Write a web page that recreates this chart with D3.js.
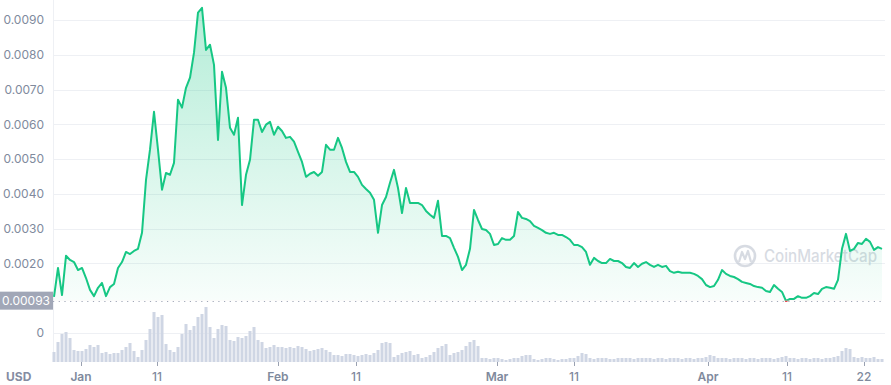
<!DOCTYPE html>
<html>
<head>
<meta charset="utf-8">
<script src="https://cdn.jsdelivr.net/npm/d3@7"></script>
<style>
  body { margin: 0; background: #fff; }
  svg { display: block; font-family: Inter, "Noto Sans", sans-serif; }
</style>
</head>
<body>
<script>
// price in USD, sampled evenly across the range
var prices = [
  0.00104, 0.00187, 0.00109, 0.00222, 0.00210, 0.00204, 0.00181, 0.00187, 0.00158, 0.00124,
  0.00106, 0.00130, 0.00144, 0.00106, 0.00132, 0.00141, 0.00187, 0.00204, 0.00233, 0.00227,
  0.00236, 0.00242, 0.00288, 0.00440, 0.00527, 0.00636, 0.00527, 0.00412, 0.00460, 0.00455,
  0.00489, 0.00671, 0.00648, 0.00705, 0.00734, 0.00806, 0.00921, 0.00935, 0.00814, 0.00829,
  0.00771, 0.00555, 0.00751, 0.00705, 0.00590, 0.00570, 0.00619, 0.00368, 0.00455, 0.00498,
  0.00613, 0.00613, 0.00578, 0.00599, 0.00607, 0.00570, 0.00593, 0.00581, 0.00561, 0.00564,
  0.00550, 0.00521, 0.00492, 0.00449, 0.00458, 0.00463, 0.00452, 0.00463, 0.00541, 0.00527,
  0.00527, 0.00561, 0.00532, 0.00492, 0.00463, 0.00463, 0.00449, 0.00426, 0.00414, 0.00403,
  0.00383, 0.00288, 0.00368, 0.00391, 0.00432, 0.00469, 0.00417, 0.00345, 0.00417, 0.00374,
  0.00374, 0.00374, 0.00368, 0.00351, 0.00340, 0.00331, 0.00380, 0.00279, 0.00279, 0.00273,
  0.00245, 0.00219, 0.00181, 0.00196, 0.00242, 0.00354, 0.00325, 0.00299, 0.00296, 0.00285,
  0.00253, 0.00256, 0.00273, 0.00268, 0.00268, 0.00279, 0.00348, 0.00331, 0.00328, 0.00322,
  0.00308, 0.00302, 0.00296, 0.00288, 0.00285, 0.00288, 0.00282, 0.00282, 0.00276, 0.00268,
  0.00253, 0.00253, 0.00247, 0.00233, 0.00196, 0.00216, 0.00207, 0.00201, 0.00201, 0.00213,
  0.00207, 0.00207, 0.00201, 0.00190, 0.00187, 0.00201, 0.00190, 0.00199, 0.00204, 0.00196,
  0.00190, 0.00196, 0.00190, 0.00193, 0.00178, 0.00173, 0.00176, 0.00173, 0.00173, 0.00173,
  0.00170, 0.00164, 0.00155, 0.00138, 0.00132, 0.00135, 0.00153, 0.00181, 0.00170, 0.00164,
  0.00161, 0.00155, 0.00147, 0.00144, 0.00141, 0.00135, 0.00132, 0.00130, 0.00121, 0.00118,
  0.00138, 0.00127, 0.00118, 0.00092, 0.00098, 0.00098, 0.00106, 0.00101, 0.00101, 0.00106,
  0.00115, 0.00112, 0.00127, 0.00132, 0.00130, 0.00127, 0.00153, 0.00242, 0.00285, 0.00236,
  0.00242, 0.00259, 0.00256, 0.00271, 0.00262, 0.00239, 0.00247, 0.00242
];

// 24h volume (relative units), same sampling
var volumes = [
  10, 20, 28, 30, 24, 12, 11, 11, 13, 17,
  15, 17, 9, 10, 8, 9, 9, 12, 15, 19,
  11, 5, 12, 22, 33, 50, 45, 47, 18, 12,
  10, 15, 28, 38, 32, 36, 45, 48, 55, 35,
  24, 33, 37, 36, 22, 21, 25, 24, 26, 31,
  35, 22, 20, 14, 15, 17, 15, 15, 14, 15,
  14, 16, 15, 13, 11, 12, 13, 14, 12, 10,
  7, 7, 6, 8, 8, 7, 6, 7, 8, 7,
  9, 12, 19, 20, 19, 5, 7, 9, 10, 11,
  7, 8, 4, 5, 7, 10, 14, 16, 18, 7,
  9, 10, 12, 16, 20, 22, 16, 4, 4, 3,
  4, 4, 3, 2, 3, 4, 4, 6, 7, 7,
  3, 2, 3, 4, 4, 3, 2, 3, 3, 4,
  4, 6, 9, 8, 4, 3, 4, 4, 4, 3,
  3, 4, 4, 4, 4, 3, 4, 4, 4, 4,
  3, 4, 4, 3, 4, 4, 4, 3, 4, 4,
  3, 4, 4, 5, 7, 6, 4, 4, 4, 3,
  4, 4, 4, 3, 4, 4, 3, 4, 4, 4,
  3, 4, 5, 6, 4, 4, 3, 4, 4, 3,
  4, 4, 3, 4, 4, 5, 6, 11, 14, 13,
  5, 4, 5, 4, 4, 5, 3, 3
];

var basePrice = 0.00093;
var baseLabel = "0.00093";

var yTicks = [0, 0.002, 0.003, 0.004, 0.005, 0.006, 0.007, 0.008, 0.009];
var yTickLabels = ["0", "0.0020", "0.0030", "0.0040", "0.0050", "0.0060", "0.0070", "0.0080", "0.0090"];

// tick positions in sample index units
var xTickPos = [6.75, 25.75, 56, 75.5, 110.75, 130, 163.5, 183.25, 202.5];
var xTickLabels = ["Jan", "11", "Feb", "11", "Mar", "11", "Apr", "11", "22"];

var width = 891, height = 385;
var left = 53, right = 885;

var svg = d3.select("body")
  .append("svg")
  .attr("width", width)
  .attr("height", height);

var x = d3.scaleLinear()
  .domain([0, prices.length - 1])
  .range([54, 882]);

var y = d3.scaleLinear()
  .domain([0, 0.009])
  .range([333, 20]);

var yVol = d3.scaleLinear()
  .domain([0, 56])
  .range([362, 306]);

var defs = svg.append("defs");

var grad = defs.append("linearGradient")
  .attr("id", "upFill")
  .attr("gradientUnits", "userSpaceOnUse")
  .attr("x1", 0).attr("x2", 0)
  .attr("y1", y(d3.max(prices))).attr("y2", y(basePrice));
grad.append("stop").attr("offset", "0%").attr("stop-color", "#16c784").attr("stop-opacity", 0.32);
grad.append("stop").attr("offset", "100%").attr("stop-color", "#16c784").attr("stop-opacity", 0.03);

defs.append("clipPath").attr("id", "clipUp")
  .append("rect")
  .attr("x", 0).attr("y", 0)
  .attr("width", width).attr("height", y(basePrice));

defs.append("clipPath").attr("id", "clipDown")
  .append("rect")
  .attr("x", 0).attr("y", y(basePrice))
  .attr("width", width).attr("height", height - y(basePrice));

// grid lines
svg.append("g")
  .selectAll("line")
  .data(yTicks)
  .enter()
  .append("line")
  .attr("x1", left)
  .attr("x2", right)
  .attr("y1", function(d) { return Math.round(y(d)) + 0.5; })
  .attr("y2", function(d) { return Math.round(y(d)) + 0.5; })
  .attr("stroke", "#eef0f4")
  .attr("stroke-width", 1);

svg.append("line")
  .attr("x1", left + 0.5).attr("x2", left + 0.5)
  .attr("y1", 0).attr("y2", 362)
  .attr("stroke", "#eef0f4");

// y labels
svg.append("g")
  .selectAll("text")
  .data(yTicks)
  .enter()
  .append("text")
  .attr("x", 44)
  .attr("y", function(d) { return y(d); })
  .attr("dy", "0.35em")
  .attr("text-anchor", "end")
  .attr("font-size", "12px")
  .attr("fill", "#808a9d")
  .text(function(d, i) { return yTickLabels[i]; });

// volume bars
svg.append("g")
  .selectAll("rect")
  .data(volumes)
  .enter()
  .append("rect")
  .attr("x", function(d, i) { return x(i) - 1.5; })
  .attr("y", function(d) { return yVol(d); })
  .attr("width", 3)
  .attr("height", function(d) { return yVol(0) - yVol(d); })
  .attr("fill", "#cfd6e4");

// watermark (behind the line)
var wm = svg.append("g").attr("opacity", 0.55);
wm.append("circle")
  .attr("cx", 745).attr("cy", 256).attr("r", 10)
  .attr("fill", "none")
  .attr("stroke", "#b8bfcc")
  .attr("stroke-width", 2.6);
wm.append("path")
  .attr("d", "M739,262 L742,252 L745,259 L748,251 L751,262")
  .attr("fill", "none")
  .attr("stroke", "#b8bfcc")
  .attr("stroke-width", 2.2)
  .attr("stroke-linejoin", "round");
wm.append("text")
  .attr("x", 764)
  .attr("y", 262)
  .attr("font-size", "17px")
  .attr("font-weight", 500)
  .attr("textLength", 113)
  .attr("lengthAdjust", "spacingAndGlyphs")
  .attr("fill", "#b8bfcc")
  .text("CoinMarketCap");

// area + line
var area = d3.area()
  .x(function(d, i) { return x(i); })
  .y0(y(basePrice))
  .y1(function(d) { return y(d); });

var line = d3.line()
  .x(function(d, i) { return x(i); })
  .y(function(d) { return y(d); });

svg.append("path")
  .datum(prices)
  .attr("clip-path", "url(#clipUp)")
  .attr("d", area)
  .attr("fill", "url(#upFill)");

svg.append("path")
  .datum(prices)
  .attr("clip-path", "url(#clipDown)")
  .attr("d", area)
  .attr("fill", "#ea3943")
  .attr("fill-opacity", 0.08);

// baseline (opening price)
svg.append("line")
  .attr("x1", left)
  .attr("x2", right)
  .attr("y1", Math.round(y(basePrice)) + 0.5)
  .attr("y2", Math.round(y(basePrice)) + 0.5)
  .attr("stroke", "#a1a7b7")
  .attr("stroke-width", 1.2)
  .attr("stroke-dasharray", "1.2,4.5");

svg.append("path")
  .datum(prices)
  .attr("clip-path", "url(#clipUp)")
  .attr("d", line)
  .attr("fill", "none")
  .attr("stroke", "#16c784")
  .attr("stroke-width", 2)
  .attr("stroke-linejoin", "round");

svg.append("path")
  .datum(prices)
  .attr("clip-path", "url(#clipDown)")
  .attr("d", line)
  .attr("fill", "none")
  .attr("stroke", "#ea3943")
  .attr("stroke-width", 2)
  .attr("stroke-linejoin", "round");

// base price tag
svg.append("rect")
  .attr("x", 0)
  .attr("y", y(basePrice) - 9)
  .attr("width", left)
  .attr("height", 18)
  .attr("fill", "#a1a7b7");

svg.append("text")
  .attr("x", 26)
  .attr("y", y(basePrice))
  .attr("dy", "0.35em")
  .attr("text-anchor", "middle")
  .attr("font-size", "12px")
  .attr("fill", "#fff")
  .text(baseLabel);

// x axis
var xAxis = svg.append("g");
xAxis.selectAll("line")
  .data(xTickPos)
  .enter()
  .append("line")
  .attr("x1", function(d) { return Math.round(x(d)) + 0.5; })
  .attr("x2", function(d) { return Math.round(x(d)) + 0.5; })
  .attr("y1", 362)
  .attr("y2", 366)
  .attr("stroke", "#9aa1b1");

xAxis.selectAll("text")
  .data(xTickPos)
  .enter()
  .append("text")
  .attr("x", function(d) { return x(d); })
  .attr("y", 381)
  .attr("text-anchor", "middle")
  .attr("font-size", "12px")
  .attr("font-weight", function(d, i) { return isNaN(+xTickLabels[i]) ? 600 : 500; })
  .attr("fill", "#808a9d")
  .text(function(d, i) { return xTickLabels[i]; });

svg.append("text")
  .attr("x", 6)
  .attr("y", 381)
  .attr("font-size", "12px")
  .attr("font-weight", 700)
  .attr("fill", "#858ca2")
  .text("USD");
</script>
</body>
</html>
